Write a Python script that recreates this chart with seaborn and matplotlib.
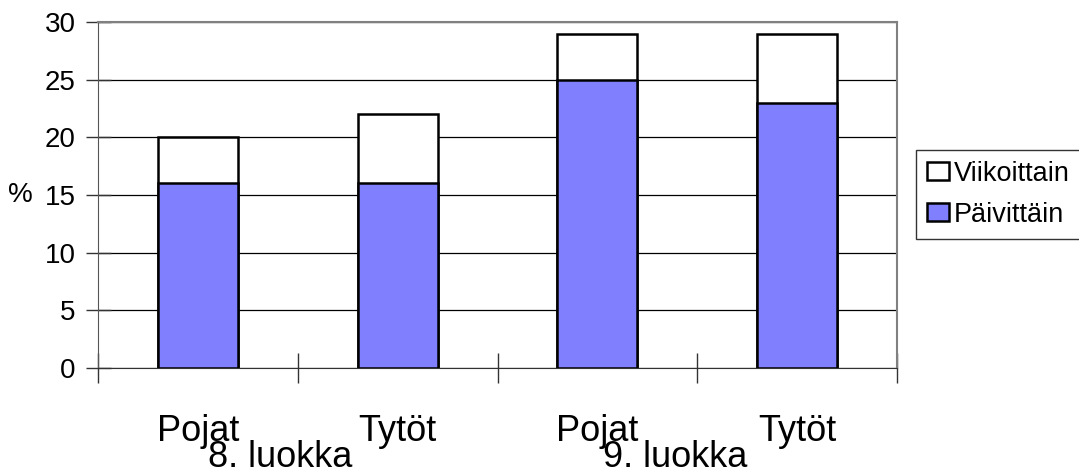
import pandas as pd
import seaborn as sns
import matplotlib.pyplot as plt

luokat = ['8. luokka', '8. luokka', '9. luokka', '9. luokka']
sukupuoli = ['Pojat', 'Tytöt', 'Pojat', 'Tytöt']
paivittain = [16, 16, 25, 23]
viikoittain = [4, 6, 4, 6]
ryhmat = ['8. luokka', '9. luokka']

sns.set_style('white', {'xtick.bottom': True, 'ytick.left': True})
plt.rcParams['font.family'] = ['Liberation Sans', 'DejaVu Sans']
plt.rcParams['text.color'] = 'black'
plt.rcParams['axes.labelcolor'] = 'black'
plt.rcParams['xtick.labelcolor'] = 'black'
plt.rcParams['ytick.labelcolor'] = 'black'

df = pd.DataFrame({'luokka': luokat, 'sp': sukupuoli,
                   'Päivittäin': paivittain, 'Viikoittain': viikoittain})
df['x'] = df['luokka'] + ' ' + df['sp']
df['yht'] = df['Päivittäin'] + df['Viikoittain']

fig = plt.figure(figsize=(10.79, 4.70), dpi=100)
ax = fig.add_axes([98 / 1079, 1 - 368 / 470, 799 / 1079, 346 / 470])

# pinotut pylväät: ensin kokonaismäärä valkoisena, päälle päivittäin
sns.barplot(data=df, x='x', y='yht', color='white', edgecolor='black',
            linewidth=1.8, width=0.4, saturation=1, ax=ax, zorder=3,
            label='Viikoittain')
sns.barplot(data=df, x='x', y='Päivittäin', color='#8080FF', edgecolor='black',
            linewidth=1.8, width=0.4, saturation=1, ax=ax, zorder=4,
            label='Päivittäin')

ax.set_xlim(-0.5, 3.5)
ax.set_ylim(0, 30)
ax.set_yticks(range(0, 31, 5))
ax.yaxis.grid(True, color='black', linewidth=0.9, zorder=1)
ax.set_axisbelow(True)

ax.set_xticks(range(4))
ax.set_xticklabels(sukupuoli, fontsize=26)
ax.tick_params(axis='x', which='major', bottom=True, length=0, pad=33)
ax.set_xticks([-0.5, 0.5, 1.5, 2.5, 3.5], minor=True)
ax.tick_params(axis='x', which='minor', bottom=True, direction='inout',
               length=22, width=1, color='#333333')
ax.tick_params(axis='y', left=True, direction='inout', length=18, width=1,
               color='#333333', labelsize=20, pad=7)

for s in ['top', 'right']:
    ax.spines[s].set_color('#808080')
    ax.spines[s].set_linewidth(1.5)
ax.spines['left'].set_color('#555555')
ax.spines['bottom'].set_color('#333333')
for s in ax.spines.values():
    s.set_zorder(5)

for i, r in enumerate(ryhmat):
    ax.text(0.41 + 1.98 * i, -0.286, r, transform=ax.get_xaxis_transform(),
            ha='center', va='baseline', fontsize=26)

ax.set_xlabel('')
ax.set_ylabel('%', rotation=0, fontsize=20, va='center', ha='center')
ax.yaxis.set_label_coords(-0.097, 0.5)

h, l = ax.get_legend_handles_labels()
if ax.get_legend():
    ax.get_legend().remove()
leg = fig.legend(h, l, loc='upper left', bbox_to_anchor=(916 / 1079, 1 - 150 / 470),
                 fontsize=19.5, frameon=True, fancybox=False, edgecolor='black',
                 handlelength=0.8, handleheight=0.65, handletextpad=0.2,
                 borderpad=0.4, labelspacing=0.55, borderaxespad=0)
leg.get_frame().set_linewidth(1)

fig.savefig('out.png', dpi=100)
